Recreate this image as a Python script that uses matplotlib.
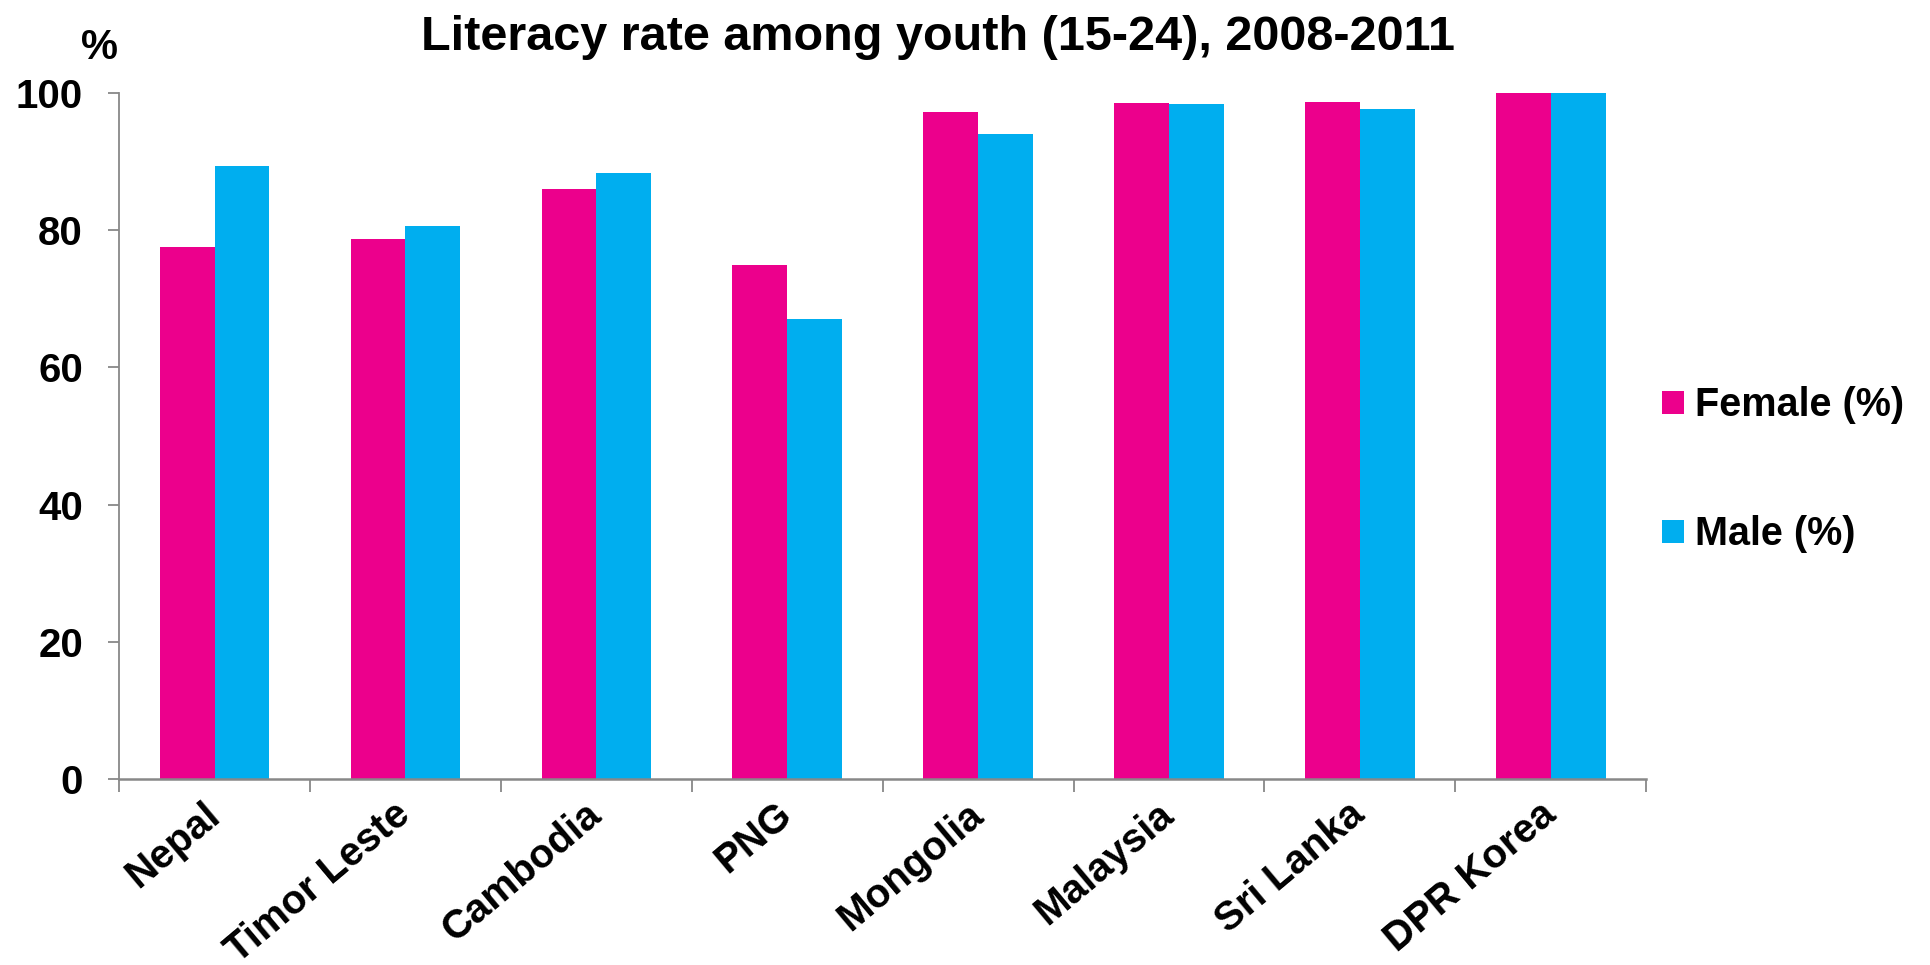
import numpy as np
import matplotlib
matplotlib.use("Agg")
import matplotlib.pyplot as plt

plt.rcParams['font.family'] = ['Liberation Sans', 'DejaVu Sans']
plt.rcParams['font.weight'] = 'bold'

countries = ["Nepal", "Timor Leste", "Cambodia", "PNG", "Mongolia",
             "Malaysia", "Sri Lanka", "DPR Korea"]
female = [77.5, 78.7, 86.0, 74.9, 97.3, 98.6, 98.7, 100.0]
male = [89.3, 80.6, 88.4, 67.1, 94.1, 98.4, 97.7, 100.0]

pink = "#EC008C"
blue = "#00AEEF"
grey = "#888888"

fig = plt.figure(figsize=(19.3, 9.65), dpi=100)
ax = fig.add_axes([0.0617, 0.1927, 0.853 - 0.0617, 0.9036 - 0.1927])

x = np.arange(len(countries))
w = 0.287
ax.bar(x - w / 2, female, w, color=pink, label="Female (%)")
ax.bar(x + w / 2, male, w, color=blue, label="Male (%)")

ax.set_xlim(-0.5, len(countries) - 0.5)
ax.set_ylim(0, 100)
ax.set_yticks([0, 20, 40, 60, 80, 100])

# category ticks at boundaries, labels at centres
ax.set_xticks(np.arange(len(countries) + 1) - 0.5)
ax.set_xticklabels([])
ax.set_xticks(x, minor=True)
ax.set_xticklabels(countries, minor=True, rotation=40, ha='right', va='center',
                   rotation_mode='anchor', fontsize=29, fontweight='bold')
ax.tick_params(axis='x', which='minor', length=0, pad=22)
ax.tick_params(axis='x', which='major', length=9.5, width=1.3, color=grey)
ax.tick_params(axis='y', length=8, width=1.3, color=grey, labelsize=29, pad=18)
for lab in ax.get_yticklabels():
    lab.set_fontweight('bold')

for s in ['top', 'right']:
    ax.spines[s].set_visible(False)
ax.spines['left'].set_color(grey)
ax.spines['left'].set_linewidth(1.3)
ax.spines['bottom'].set_color(grey)
ax.spines['bottom'].set_linewidth(1.8)
ax.spines['bottom'].set_zorder(5)

fig.text(0.486, 0.948, "Literacy rate among youth (15-24), 2008-2011",
         ha='center', va='baseline', fontsize=35, fontweight='bold')
fig.text(0.0518, 0.939, "%", ha='center', va='baseline', fontsize=30,
         fontweight='bold')

fig.legend(loc='center left', bbox_to_anchor=(0.861, 0.513), frameon=False,
           handlelength=0.55, handleheight=0.55,
           handletextpad=0.3, labelspacing=2.3, borderaxespad=0, borderpad=0,
           prop={'weight': 'bold', 'size': 28.5})

fig.savefig("out.png", dpi=100)
